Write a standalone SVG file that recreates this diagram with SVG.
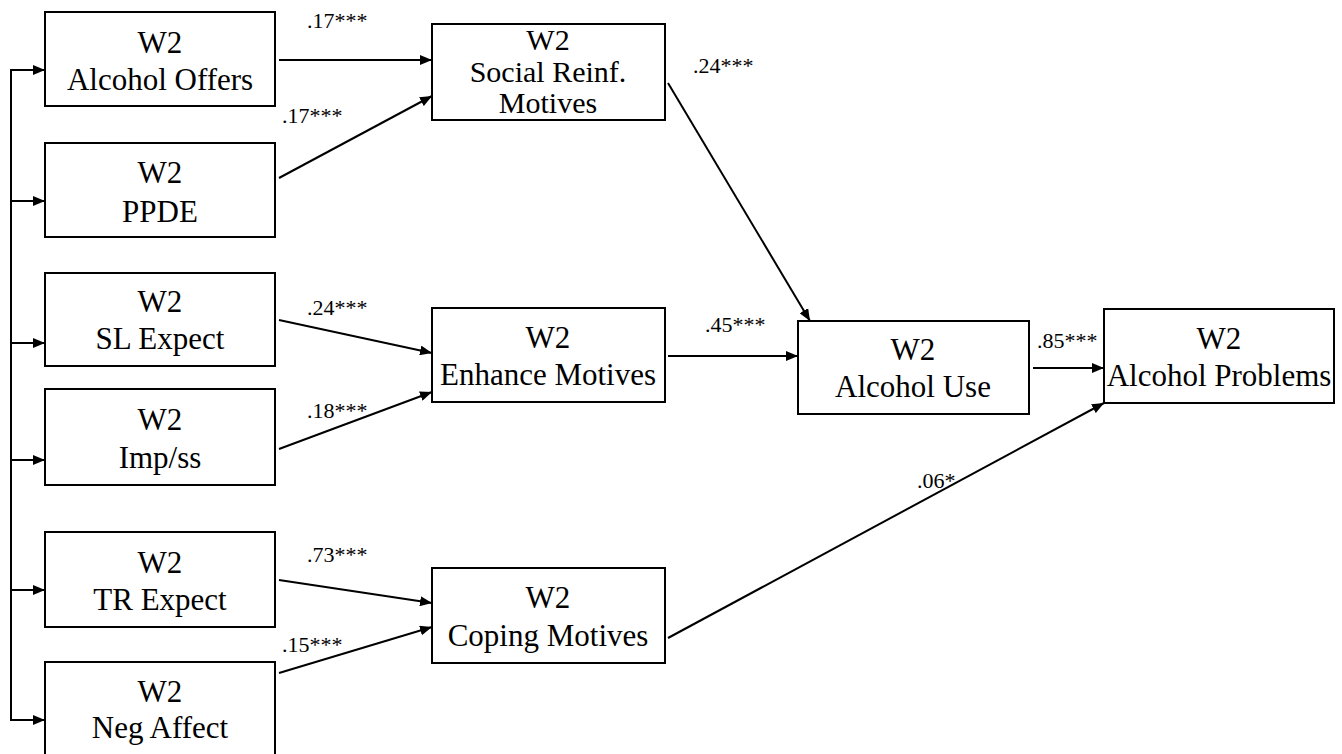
<svg xmlns="http://www.w3.org/2000/svg" width="1342" height="754" viewBox="0 0 1342 754">
  <style>
    .box { fill: #fff; stroke: #000; stroke-width: 2; }
    .lbl { font-family: 'Liberation Serif', Tinos, 'DejaVu Serif', serif; font-size: 31px; fill: #000; text-anchor: middle; }
    .lbl3 { font-size: 30px; }
    .coef { font-family: 'Liberation Serif', Tinos, 'DejaVu Serif', serif; font-size: 22px; fill: #000; }
    .edge { fill: none; stroke: #000; stroke-width: 2; marker-end: url(#arrow); }
  </style>
  <defs>
    <marker id="arrow" viewBox="0 0 12 10" refX="12" refY="5" markerWidth="12" markerHeight="10" markerUnits="userSpaceOnUse" orient="auto">
      <path d="M0,0 L12,5 L0,10 Z" fill="#000"/>
    </marker>
  </defs>
  <rect width="1342" height="754" fill="#fff"/>

  <!-- connectors -->
  <g id="connectors">
    <!-- shared bus feeding the six predictors -->
    <path d="M45,70 H11 V720 H45" fill="none" stroke="#000" stroke-width="2"/>
    <path class="edge" d="M11,70 H45"/>
    <path class="edge" d="M11,201 H45"/>
    <path class="edge" d="M11,343 H45"/>
    <path class="edge" d="M11,460 H45"/>
    <path class="edge" d="M11,590 H45"/>
    <path class="edge" d="M11,720 H45"/>

    <path class="edge" d="M279,60 L432,60"/>
    <path class="edge" d="M279,178 L432,96"/>
    <path class="edge" d="M668,83 L810,321"/>
    <path class="edge" d="M279,320 L432,353"/>
    <path class="edge" d="M279,449 L432,392"/>
    <path class="edge" d="M668,356 L798,356"/>
    <path class="edge" d="M279,580 L432,603"/>
    <path class="edge" d="M279,673 L432,627"/>
    <path class="edge" d="M1033,368 L1104,368"/>
    <path class="edge" d="M668,638 L1104,403"/>

    <text class="coef" x="307" y="28">.17***</text>
    <text class="coef" x="282" y="123">.17***</text>
    <text class="coef" x="693" y="73">.24***</text>
    <text class="coef" x="307" y="315">.24***</text>
    <text class="coef" x="307" y="418">.18***</text>
    <text class="coef" x="705" y="332">.45***</text>
    <text class="coef" x="1037" y="348">.85***</text>
    <text class="coef" x="307" y="562">.73***</text>
    <text class="coef" x="282" y="652">.15***</text>
    <text class="coef" x="917" y="488">.06*</text>
  </g>

  <!-- predictors -->
  <g id="alcohol-offers">
    <rect class="box" x="45" y="12" width="230" height="94"/>
    <text class="lbl" x="160" y="53">W2</text>
    <text class="lbl" x="160" y="90">Alcohol Offers</text>
  </g>
  <g id="ppde">
    <rect class="box" x="45" y="143" width="230" height="94"/>
    <text class="lbl" x="160" y="183">W2</text>
    <text class="lbl" x="160" y="222">PPDE</text>
  </g>
  <g id="sl-expect">
    <rect class="box" x="45" y="273" width="230" height="93"/>
    <text class="lbl" x="160" y="312">W2</text>
    <text class="lbl" x="160" y="349">SL Expect</text>
  </g>
  <g id="imp-ss">
    <rect class="box" x="45" y="389" width="230" height="96"/>
    <text class="lbl" x="160" y="430">W2</text>
    <text class="lbl" x="160" y="468">Imp/ss</text>
  </g>
  <g id="tr-expect">
    <rect class="box" x="45" y="532" width="230" height="95"/>
    <text class="lbl" x="160" y="573">W2</text>
    <text class="lbl" x="160" y="610">TR Expect</text>
  </g>
  <g id="neg-affect">
    <rect class="box" x="45" y="662" width="230" height="100"/>
    <text class="lbl" x="160" y="702">W2</text>
    <text class="lbl" x="160" y="738">Neg Affect</text>
  </g>

  <!-- motives -->
  <g id="social-motives">
    <rect class="box" x="432" y="24" width="233" height="96"/>
    <text class="lbl lbl3" x="548" y="50">W2</text>
    <text class="lbl lbl3" x="548" y="82">Social Reinf.</text>
    <text class="lbl lbl3" x="548" y="113">Motives</text>
  </g>
  <g id="enhance-motives">
    <rect class="box" x="432" y="308" width="233" height="94"/>
    <text class="lbl" x="548" y="348">W2</text>
    <text class="lbl" x="548" y="385">Enhance Motives</text>
  </g>
  <g id="coping-motives">
    <rect class="box" x="432" y="568" width="233" height="95"/>
    <text class="lbl" x="548" y="608">W2</text>
    <text class="lbl" x="548" y="646">Coping Motives</text>
  </g>

  <!-- outcomes -->
  <g id="alcohol-use">
    <rect class="box" x="798" y="321" width="231" height="93"/>
    <text class="lbl" x="913" y="360">W2</text>
    <text class="lbl" x="913" y="397">Alcohol Use</text>
  </g>
  <g id="alcohol-problems">
    <rect class="box" x="1104" y="309" width="230" height="94"/>
    <text class="lbl" x="1219" y="349">W2</text>
    <text class="lbl" x="1219" y="386">Alcohol Problems</text>
  </g>
</svg>
